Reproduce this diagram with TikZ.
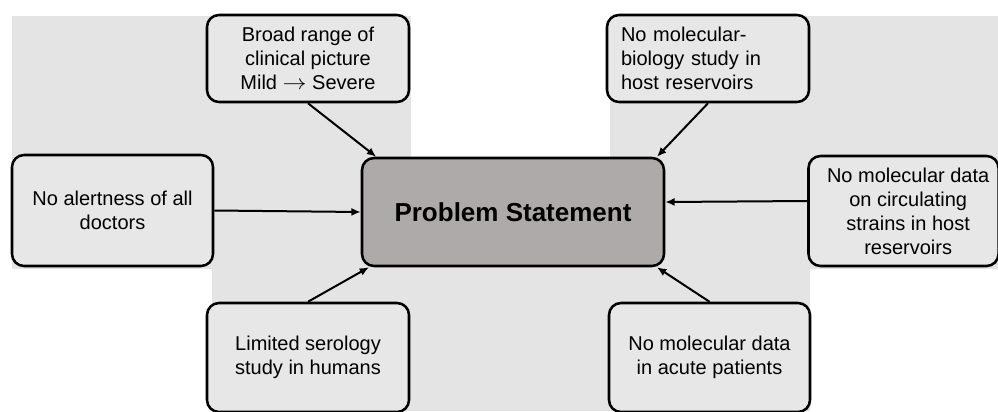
\documentclass[tikz,border=0pt]{standalone}
\usepackage{fontspec}
\setmainfont{Liberation Sans}
\usetikzlibrary{arrows.meta}

\definecolor{bggray}{HTML}{E4E4E4}
\definecolor{boxgray}{HTML}{E7E7E7}
\definecolor{probgray}{HTML}{AEAAA9}

\begin{document}
\begin{tikzpicture}[x = 0.75pt, y = -0.75pt,
  box/.style = {draw, line width = 1.9pt, rounded corners = 9pt, fill = boxgray, align = center, font = \fontsize{15}{18}\selectfont, inner sep = 2pt, minimum width = 151.5pt},
  arr/.style = {line width = 1.5pt, -{Latex[length = 7pt, width = 6pt]}}]

\useasboundingbox (0, 0) rectangle (998, 411);
\clip (0, 0) rectangle (998, 411);

\fill[bggray] (12, 16) rectangle (411, 269);
\fill[bggray] (610, 16) rectangle (998, 269);
\fill[bggray] (212, 157) rectangle (810, 411);

\node (prob) at (513, 212) [box, fill = probgray, minimum width = 226.5pt, minimum height = 81pt, font = \fontsize{19.5}{23}\selectfont\bfseries] {Problem Statement};

\node (broad) at (308, 58.5) [box, minimum height = 65.25pt] {Broad range of\\clinical picture\\Mild \scalebox{1.25}[1.1]{$\rightarrow$} Severe};
\node (alert) at (112.5, 210.5) [box, minimum width = 150.75pt, minimum height = 83.25pt] {No alertness of all\\doctors};
\node (limited) at (308, 357.5) [box, minimum height = 81.75pt] {Limited serology\\study in humans};

\node (molbio) at (708, 58.5) [box, align = left, text width = 130.5pt, inner xsep = 10.5pt, minimum height = 65.25pt] {No molecular-\\biology study in\\host reservoirs};
\node (circ) at (903.5, 211) [box, minimum width = 142.5pt, minimum height = 82.5pt, inner xsep = 6pt] {\hspace*{7pt}No molecular data\\\hspace*{7pt}on circulating\\\hspace*{7pt}strains in host\\\hspace*{7pt}reservoirs};
\node (acute) at (709.5, 357.5) [box, minimum width = 150.75pt, minimum height = 81.75pt] {No molecular data\\in acute patients};

\draw[arr] (broad.south) -- (prob.158);
\draw[arr] (alert.east) -- (prob.west);
\draw[arr] (limited.north) -- (prob.201);
\draw[arr] (molbio.south) -- (prob.21);
\draw[arr] ([yshift = 7.5pt]circ.west) -- ([yshift = 7.5pt]prob.east);
\draw[arr] (acute.north) -- (prob.-21);

\end{tikzpicture}
\end{document}
